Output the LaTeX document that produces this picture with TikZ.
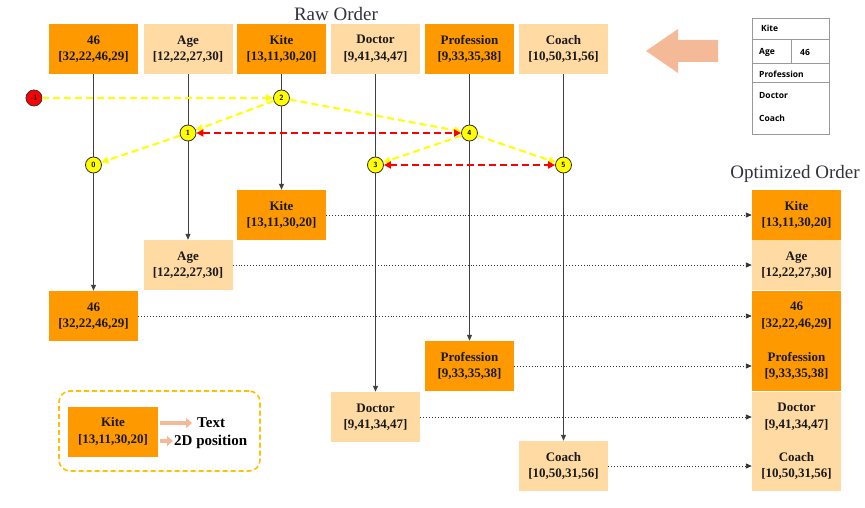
\documentclass[tikz,border=0pt]{standalone}
\usepackage{fontspec}
\setmainfont{Liberation Serif}
\newfontfamily\tabfont{Open Sans}
\usetikzlibrary{arrows.meta}
\definecolor{darkor}{RGB}{255,153,0}
\definecolor{lightor}{RGB}{255,218,163}
\definecolor{salmon}{RGB}{244,185,150}
\definecolor{ylw}{RGB}{255,255,0}
\definecolor{gold}{RGB}{255,192,0}
\definecolor{linegray}{RGB}{64,64,64}
\definecolor{titlegray}{RGB}{50,50,60}
\begin{document}
\begin{tikzpicture}[x=1pt,y=-1pt,
  box/.style={minimum width=89pt,minimum height=50pt,inner sep=0pt,align=center,
    text=black!90,font=\bfseries\fontsize{13}{16.5}\selectfont},
  dark/.style={box,fill=darkor},
  light/.style={box,fill=lightor},
  vline/.style={draw=linegray,line width=1pt,-{Triangle[length=6pt,width=5pt]}},
  dotline/.style={draw=black!60,line width=0.9pt,dotted,-{Triangle[length=6pt,width=5pt]},black!80},
  idx/.style={circle,draw=black!80,line width=0.8pt,fill=ylw,minimum size=16pt,inner sep=0pt,
    font=\sffamily\bfseries\fontsize{7.5}{8}\selectfont},
  yarrow/.style={draw=ylw,line width=2pt,dash pattern=on 7pt off 4pt,-{Triangle[length=7pt,width=7pt]}},
  rarrow/.style={draw=red,line width=2pt,dash pattern=on 7pt off 4pt,{Triangle[length=7pt,width=7pt]}-{Triangle[length=7pt,width=7pt]}},
  title/.style={text=titlegray,font=\fontsize{19}{22}\selectfont},
  tab/.style={anchor=west,inner sep=0pt,font=\tabfont\bfseries\fontsize{8.5}{10}\selectfont}
]
\useasboundingbox (0,0) rectangle (865,508);

% raw order row
\node[title] (raw) at (336,14) {Raw Order};
\node[dark]  (t0) at (93.5,49)  {46\\{}[32,22,46,29]};
\node[light] (t1) at (188,49)   {Age\\{}[12,22,27,30]};
\node[dark]  (t2) at (281.5,49) {Kite\\{}[13,11,30,20]};
\node[light] (t3) at (375.5,49) {Doctor\\{}[9,41,34,47]};
\node[dark]  (t4) at (469.5,49) {Profession\\{}[9,33,35,38]};
\node[light] (t5) at (563.5,49) {Coach\\{}[10,50,31,56]};

% sorted positions below
\node[dark]  (l2) at (281.5,215) {Kite\\{}[13,11,30,20]};
\node[light] (l1) at (188,265)   {Age\\{}[12,22,27,30]};
\node[dark]  (l0) at (93.5,316)  {46\\{}[32,22,46,29]};
\node[dark]  (l4) at (469.5,366) {Profession\\{}[9,33,35,38]};
\node[light] (l3) at (375.5,417) {Doctor\\{}[9,41,34,47]};
\node[light] (l5) at (563.5,466) {Coach\\{}[10,50,31,56]};

% optimized order column
\node[title] (opt) at (795,174) {Optimized Order};
\node[dark]  (r2) at (796.5,215) {Kite\\{}[13,11,30,20]};
\node[light] (r1) at (796.5,265) {Age\\{}[12,22,27,30]};
\node[dark]  (r0) at (796.5,315.5) {46\\{}[32,22,46,29]};
\node[dark]  (r4) at (796.5,366) {Profession\\{}[9,33,35,38]};
\node[light] (r3) at (796.5,416.5) {Doctor\\{}[9,41,34,47]};
\node[light] (r5) at (796.5,466) {Coach\\{}[10,50,31,56]};

% vertical drops
\foreach \i in {0,...,5} \draw[vline] (t\i) -- (l\i);

% horizontal dotted moves
\foreach \i in {0,...,5} \draw[dotline] (l\i.east) -- (r\i.west |- l\i.east);

% traversal indices
\node[idx,fill=red] (cm) at (34,98) {-1};
\node[idx] (c2) at (281.5,98) {2};
\node[idx] (c1) at (188,133) {1};
\node[idx] (c4) at (469.5,133) {4};
\node[idx] (c0) at (93.5,165) {0};
\node[idx] (c3) at (375.5,165) {3};
\node[idx] (c5) at (563.5,165) {5};

\draw[yarrow] (cm) -- (c2);
\draw[yarrow] (c2) -- (c1);
\draw[yarrow] (c1) -- (c0);
\draw[yarrow] (c2) -- (c4);
\draw[yarrow] (c4) -- (c3);
\draw[yarrow] (c4) -- (c5);
\draw[rarrow] (c1) -- (c4);
\draw[rarrow] (c3) -- (c5);

% big block arrow
\fill[salmon] (646,51) -- (678,29) -- (678,40) -- (718,40) -- (718,62) -- (678,62) -- (678,73) -- cycle;

% layout table
\draw[black!40,line width=0.8pt] (752,18) rectangle (829,134);
\draw[black!40,line width=0.8pt] (752,39) -- (829,39) (752,63) -- (829,63) (752,82) -- (829,82) (791,39) -- (791,63);
\node[tab] (k1) at (761,28) {Kite};
\node[tab] (k2) at (759,52) {Age};
\node[tab] (k3) at (800,52) {46};
\node[tab] (k4) at (759,74) {Profession};
\node[tab] (k5) at (759,96) {Doctor};
\node[tab] (k6) at (759,118) {Coach};

% legend
\node[draw=gold,line width=1.6pt,dash pattern=on 5pt off 3pt,rounded corners=11pt,
  minimum width=201pt,minimum height=80pt] (legend) at (159.5,431) {};
\node[dark,minimum width=90pt] (lk) at (113,431.5) {Kite\\{}[13,11,30,20]};
\coordinate (a1s) at (160,423);
\coordinate (a1e) at (192,423);
\coordinate (a2s) at (160,441);
\coordinate (a2e) at (173,441);
\draw[salmon,line width=4pt,-{Triangle[length=6pt,width=10pt]}] (a1s) -- (a1e);
\draw[salmon,line width=4pt,-{Triangle[length=6pt,width=10pt]}] (a2s) -- (a2e);
\node[anchor=west,inner sep=0pt,font=\bfseries\fontsize{15}{17}\selectfont] (lt) at (197,423) {Text};
\node[anchor=west,inner sep=0pt,font=\bfseries\fontsize{15}{17}\selectfont] (lp) at (174,442) {2D position};
\end{tikzpicture}
\end{document}
